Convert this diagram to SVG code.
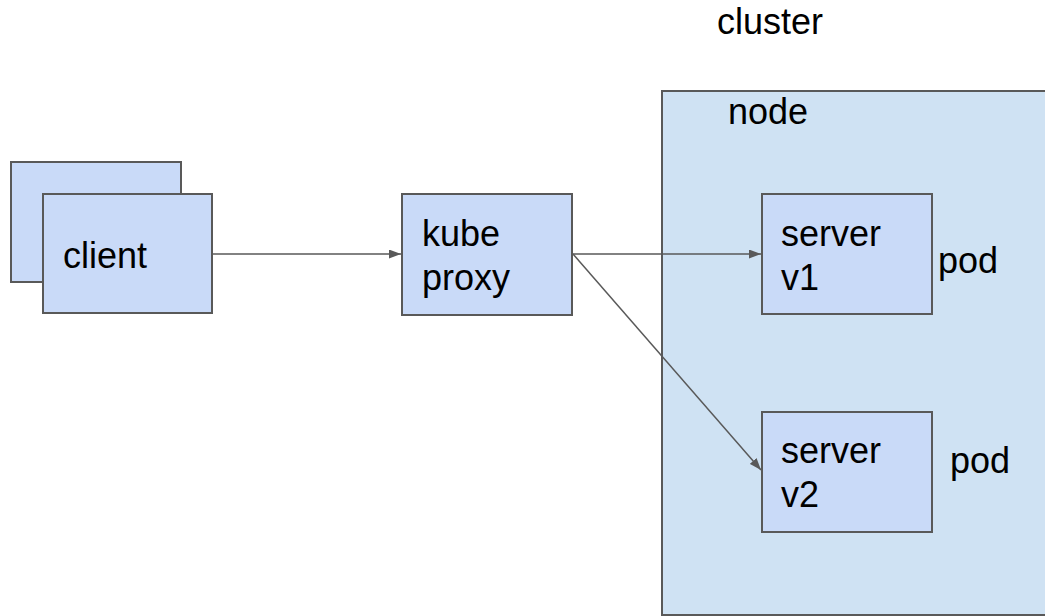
<svg xmlns="http://www.w3.org/2000/svg" width="1045" height="616" viewBox="0 0 1045 616">
<style>
.box{fill:#c9daf8;stroke:#595959;stroke-width:2}
.nodebox{fill:#cfe2f3;stroke:#595959;stroke-width:2}
.t{font-family:"Liberation Sans",Arial,sans-serif;font-size:36px;fill:#000}
.c{stroke:#595959;stroke-width:1.5;fill:none;marker-end:url(#ah)}
</style>
<defs>
<marker id="ah" viewBox="0 0 10 10" refX="10" refY="5" markerWidth="12" markerHeight="9" markerUnits="userSpaceOnUse" orient="auto" preserveAspectRatio="none">
<path d="M0,0 L10,5 L0,10 z" fill="#595959"/>
</marker>
</defs>
<rect width="1045" height="616" fill="#fff"/>
<text class="t" x="717" y="34">cluster</text>
<g id="node">
<rect class="nodebox" x="662" y="91" width="400" height="524"/>
<text class="t" x="728" y="124">node</text>
</g>
<g id="client">
<rect class="box" x="11" y="162" width="170" height="120"/>
<rect class="box" x="43" y="194" width="169" height="119"/>
<text class="t" x="63" y="268">client</text>
</g>
<g id="kube-proxy">
<rect class="box" x="402" y="194" width="170" height="121"/>
<text class="t" x="422" y="246">kube</text>
<text class="t" x="422" y="290">proxy</text>
</g>
<g id="server-v1">
<rect class="box" x="762" y="194" width="170" height="120"/>
<text class="t" x="781" y="246">server</text>
<text class="t" x="781" y="290">v1</text>
<text class="t" x="938" y="273">pod</text>
</g>
<g id="server-v2">
<rect class="box" x="762" y="412" width="170" height="120"/>
<text class="t" x="781" y="463">server</text>
<text class="t" x="781" y="507">v2</text>
<text class="t" x="950" y="473">pod</text>
</g>
<g id="connectors">
<line class="c" x1="213" y1="254" x2="401" y2="254"/>
<line class="c" x1="573" y1="254" x2="761" y2="254"/>
<line class="c" x1="573" y1="254" x2="761" y2="470"/>
</g>
</svg>
